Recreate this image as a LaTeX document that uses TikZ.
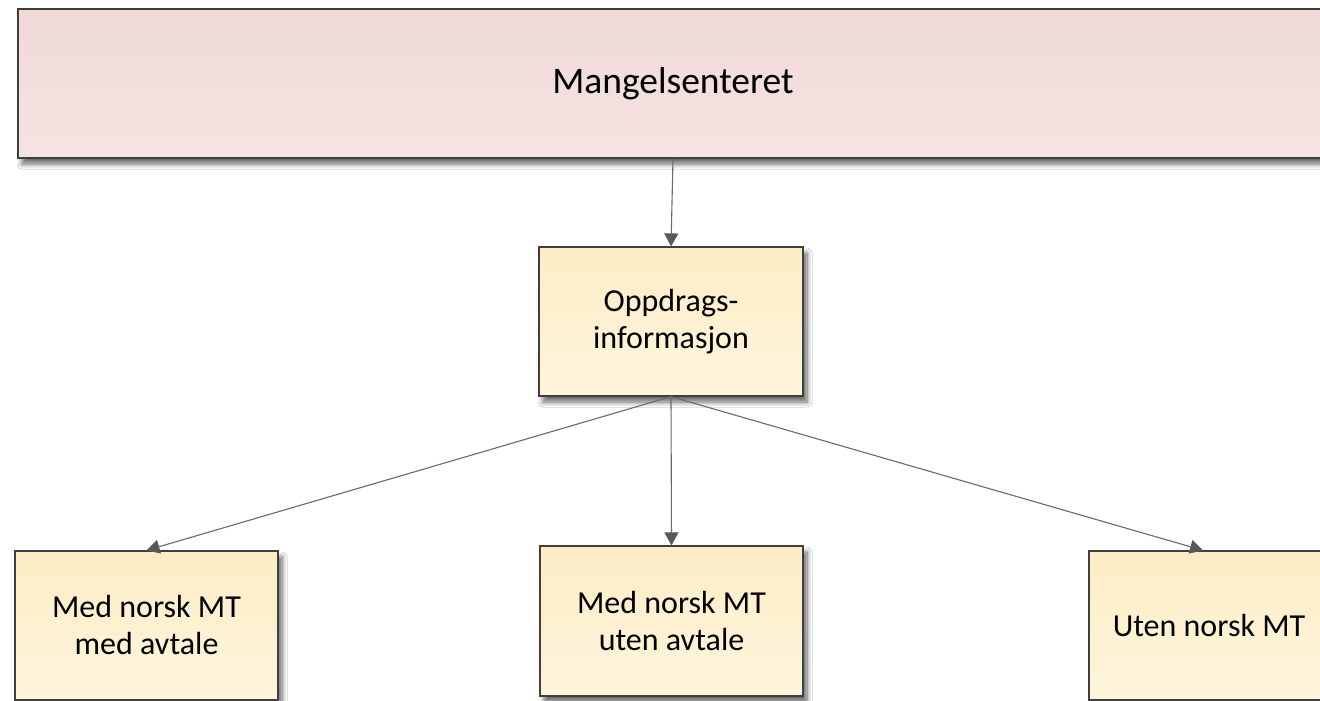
\documentclass[tikz,border=0pt]{standalone}
\usepackage{fontspec}
\setmainfont{Carlito}
\usetikzlibrary{shadows.blur,arrows.meta}
\definecolor{pinktop}{HTML}{F0D9D8}
\definecolor{pinkbot}{HTML}{F5E4E3}
\definecolor{yeltop}{HTML}{FCEDC5}
\definecolor{yelbot}{HTML}{FEF5DC}
\definecolor{edge}{HTML}{3F3F3F}
\definecolor{conn}{HTML}{6A6A6A}
\definecolor{tip}{HTML}{595959}
\tikzset{
  box/.style={draw=edge, line width=1.2pt, rectangle, align=center,
    blur shadow={shadow xshift=4pt, shadow yshift=-6pt, shadow blur radius=5pt, shadow blur steps=8, shadow opacity=60},
    inner sep=0pt},
  pinkbox/.style={box, top color=pinktop, bottom color=pinkbot, font=\fontsize{37.5}{45}\selectfont},
  yelbox/.style={box, top color=yeltop, bottom color=yelbot, font=\fontsize{32}{37}\selectfont},
  conline/.style={draw=conn, line width=1.1pt, -{Triangle[width=14pt,length=13pt,fill=tip,color=tip]}}
}
\begin{document}
\begin{tikzpicture}[x=1pt,y=-1pt]
\clip (0,0) rectangle (1320,701);
\fill[white] (0,0) rectangle (1320,701);
\node[pinkbox, minimum width=1310pt, minimum height=149pt] (top) at (673,83.5) {Mangelsenteret};
\node[yelbox, minimum width=264pt, minimum height=149pt] (opp) at (671,321.5) {Oppdrags-\\informasjon};
\node[yelbox, minimum width=263pt, minimum height=149pt] (left) at (146.5,625.5) {Med norsk MT\\med avtale};
\node[yelbox, minimum width=263pt, minimum height=150pt] (mid) at (671.5,621) {Med norsk MT\\uten avtale};
\node[yelbox, minimum width=240pt, minimum height=149pt] (right) at (1209,625.5) {Uten norsk MT};
\draw[conline] (top.south) -- (opp.north);
\draw[conline] (opp.south) -- (left.north);
\draw[conline] (opp.south) -- (mid.north);
\draw[conline] (opp.south) -- (right.north -| 1203,0);
\end{tikzpicture}
\end{document}
